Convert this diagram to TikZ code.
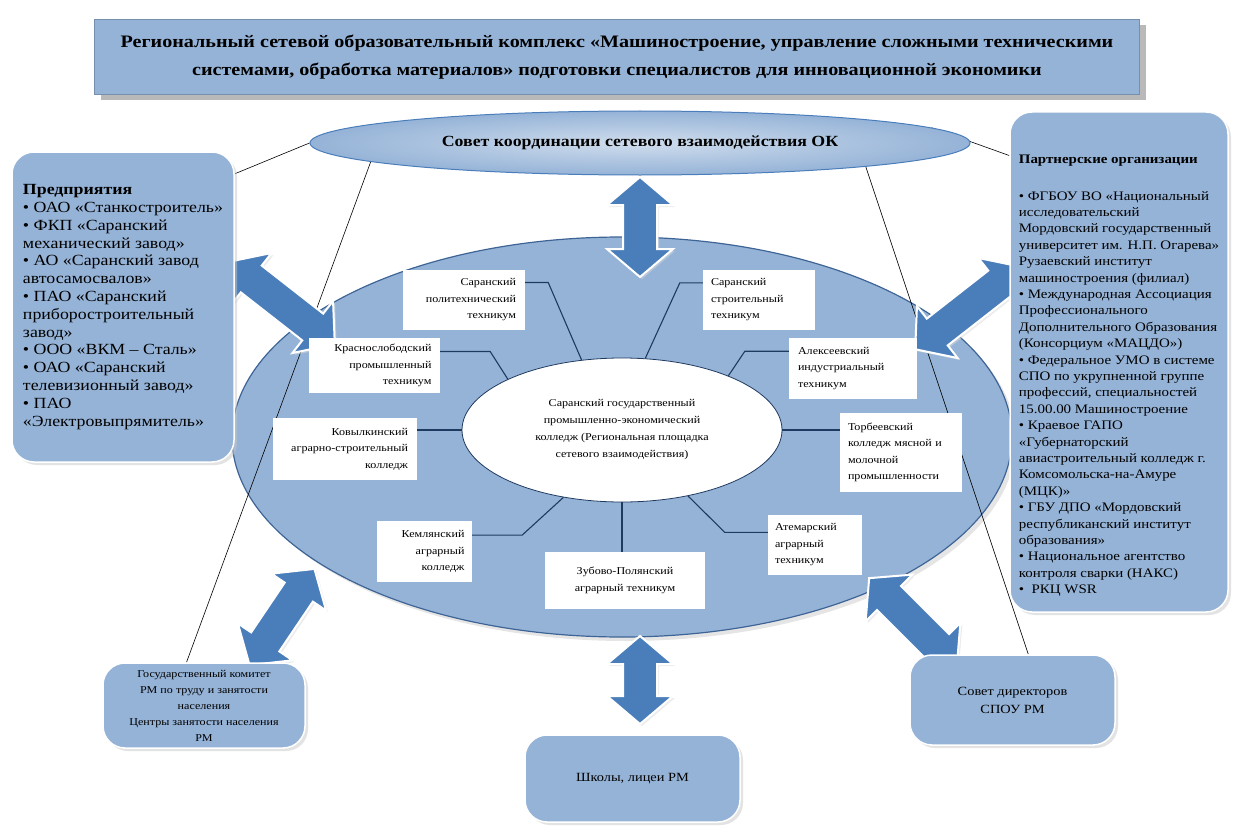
\documentclass[tikz,border=0pt]{standalone}
\usepackage{fontspec}
\setmainfont{Liberation Serif}[FakeStretch=1.15]
\usetikzlibrary{shapes.geometric,shadows}
\definecolor{paleblue}{HTML}{95B3D7}
\definecolor{arrowblue}{HTML}{4A7EBB}
\definecolor{rimblue}{HTML}{3E6496}
\definecolor{navy}{HTML}{1F3A60}
\pgfdeclarelayer{back}
\pgfdeclarelayer{mid}
\pgfsetlayers{back,mid,main}

% block arrow with two heads: centre, angle, half length
\newcommand{\blockarrow}[3]{%
  \begin{scope}[shift={#1}, rotate=#2]
    \draw[bigarrow] ({-#3},0) -- ({-#3+28},33) -- ({-#3+28},17) -- ({#3-28},17) -- ({#3-28},33)
      -- ({#3},0) -- ({#3-28},-33) -- ({#3-28},-17) -- ({-#3+28},-17) -- ({-#3+28},-33) -- cycle;
  \end{scope}}

\begin{document}
\begin{tikzpicture}[x=1pt, y=-1pt,
    every node/.style={inner sep=0pt, text=black},
    banner/.style={fill=paleblue, draw=paleblue!80!black, line width=0.6pt,
      drop shadow={shadow xshift=6pt, shadow yshift=-6pt, fill=black!55},
      font=\bfseries\fontsize{17.5}{28}\selectfont, align=center},
    panel/.style={fill=paleblue, draw=white, line width=1.5pt, rounded corners=22pt,
      drop shadow={shadow xshift=3pt, shadow yshift=-3pt, fill=black!22}},
    college/.style={fill=white, font=\fontsize{10.5}{16.5}\selectfont},
    bigarrow/.style={fill=arrowblue, draw=white, line width=2pt,
      drop shadow={shadow xshift=2pt, shadow yshift=-2pt, fill=black!15}},
    link/.style={draw=navy, line width=1.1pt},
    tie/.style={draw=black, line width=0.6pt},
  ]
\useasboundingbox (0,0) rectangle (1233,832);

\begin{pgfonlayer}{back}
  \node[ellipse, minimum width=780, minimum height=400, fill=paleblue, draw=rimblue, line width=1.2pt,
    drop shadow={shadow xshift=4pt, shadow yshift=-4pt, fill=black!20}] (ring) at (622,437) {};
\end{pgfonlayer}

\blockarrow{(640,227)}{90}{50}
\blockarrow{(640,680)}{90}{44}
\blockarrow{(282,303)}{-38}{67}
\blockarrow{(968,308)}{38}{67}
\blockarrow{(282,617)}{56}{58}
\blockarrow{(913,622)}{-45}{62}

\node[banner, minimum width=1045, minimum height=75] (head) at (617,57)
  {Региональный сетевой образовательный комплекс «Машиностроение, управление сложными техническими\\
   системами, обработка материалов» подготовки специалистов для инновационной экономики};

\node[ellipse, minimum width=660, minimum height=64, draw=arrowblue, line width=1pt,
  inner color=paleblue!45, outer color=paleblue,
  font=\bfseries\fontsize{15.5}{18}\selectfont] (sovet) at (640,143)
  {Совет координации сетевого взаимодействия ОК};

\node[ellipse, minimum width=320, minimum height=144, fill=white, draw=navy, line width=0.8pt,
  align=center, font=\fontsize{10.5}{17}\selectfont] (coll) at (622,430)
  {Саранский государственный\\промышленно-экономический\\колледж (Региональная площадка\\сетевого взаимодействия)};

\node[college, minimum width=122, minimum height=60, text width=104, align=right] (polyt) at (464,300)
  {Саранский\\политехнический\\техникум};
\node[college, minimum width=112, minimum height=60, text width=96, align=left] (stroit) at (759,300)
  {Саранский\\строительный\\техникум};
\node[college, minimum width=131, minimum height=55, text width=114, align=right] (krasn) at (374.5,365.5)
  {Краснослободский\\промышленный\\техникум};
\node[college, minimum width=128, minimum height=61, text width=110, align=left] (aleks) at (853,368.5)
  {Алексеевский\\индустриальный\\техникум};
\node[college, minimum width=144, minimum height=62, text width=126, align=right] (kovyl) at (345,449)
  {Ковылкинский\\аграрно-строительный\\колледж};
\node[college, minimum width=122, minimum height=79, text width=106, align=left] (torb) at (901,452.5)
  {Торбеевский\\колледж мясной и\\молочной\\промышленности};
\node[college, minimum width=95, minimum height=61, text width=80, align=right] (keml) at (424.5,551.5)
  {Кемлянский\\аграрный\\колледж};
\node[college, minimum width=160, minimum height=57, align=center] (zub) at (625,580.5)
  {Зубово-Полянский\\аграрный техникум};
\node[college, minimum width=94, minimum height=60, text width=80, align=left] (atem) at (815,545)
  {Атемарский\\аграрный\\техникум};

\node[panel, minimum width=222, minimum height=310, align=left,
  font=\fontsize{15.5}{17.8}\selectfont] (ent) at (123,307)
  {{\bfseries Предприятия}\\
   • ОАО «Станкостроитель»\\
   • ФКП «Саранский\\
   механический завод»\\
   • АО «Саранский завод\\
   автосамосвалов»\\
   • ПАО «Саранский\\
   приборостроительный\\
   завод»\\
   • ООО «ВКМ – Сталь»\\
   • ОАО «Саранский\\
   телевизионный завод»\\
   • ПАО\\
   «Электровыпрямитель»};

\node[panel, minimum width=218, minimum height=500, align=left,
  font=\fontsize{13}{16.4}\selectfont] (partn) at (1119,362)
  {\rule{0pt}{36pt}{\bfseries Партнерские организации}\\[20pt]
   • ФГБОУ ВО «Национальный\\
   исследовательский\\
   Мордовский государственный\\
   университет им. Н.П. Огарева»\\
   Рузаевский институт\\
   машиностроения (филиал)\\
   • Международная Ассоциация\\
   Профессионального\\
   Дополнительного Образования\\
   (Консорциум «МАЦДО»)\\
   • Федеральное УМО в системе\\
   СПО по укрупненной группе\\
   профессий, специальностей\\
   15.00.00 Машиностроение\\
   • Краевое ГАПО\\
   «Губернаторский\\
   авиастроительный колледж г.\\
   Комсомольска-на-Амуре\\
   (МЦК)»\\
   • ГБУ ДПО «Мордовский\\
   республиканский институт\\
   образования»\\
   • Национальное агентство\\
   контроля сварки (НАКС)\\
   •~~РКЦ WSR};

\node[panel, minimum width=202, minimum height=85, align=center,
  font=\fontsize{10.5}{16}\selectfont] (gos) at (204,705.5)
  {Государственный комитет\\РМ по труду и занятости\\населения\\Центры занятости населения\\РМ};
\node[panel, minimum width=215, minimum height=87, font=\fontsize{12.5}{16}\selectfont] (school) at (632.5,778.5)
  {Школы, лицеи РМ};
\node[panel, minimum width=205, minimum height=90, align=center,
  font=\fontsize{12.5}{18}\selectfont] (dir) at (1012.5,700)
  {Совет директоров\\СПОУ РМ};

\draw[link] (polyt.16) -- ([xshift=23pt]polyt.16) -- (coll.120);
\draw[link] (stroit.163) -- ([xshift=-23pt]stroit.163) -- (coll.72);
\draw[link] (krasn.12) -- ([xshift=50pt]krasn.12) -- (coll.156);
\draw[link] (aleks.165) -- ([xshift=-44pt]aleks.165) -- (coll.27);
\draw[link] (coll.west) -- (coll.west -| kovyl.east);
\draw[link] (coll.east) -- (coll.east -| torb.west);
\draw[link] (keml.19) -- ([xshift=50pt]keml.19) -- (coll.229);
\draw[link] (coll.south) -- (coll.south |- zub.north);
\draw[link] (coll.-45) -- ([xshift=-43pt]atem.165) -- (atem.165);

\begin{pgfonlayer}{mid}
  \draw[tie] (ent.50) -- (sovet.west);
  \draw[tie] (sovet.3) -- (partn.118);
  \draw[tie] (sovet.184) -- (gos.112);
  \draw[tie] (sovet.-6) -- (dir.71);
\end{pgfonlayer}

\end{tikzpicture}
\end{document}
